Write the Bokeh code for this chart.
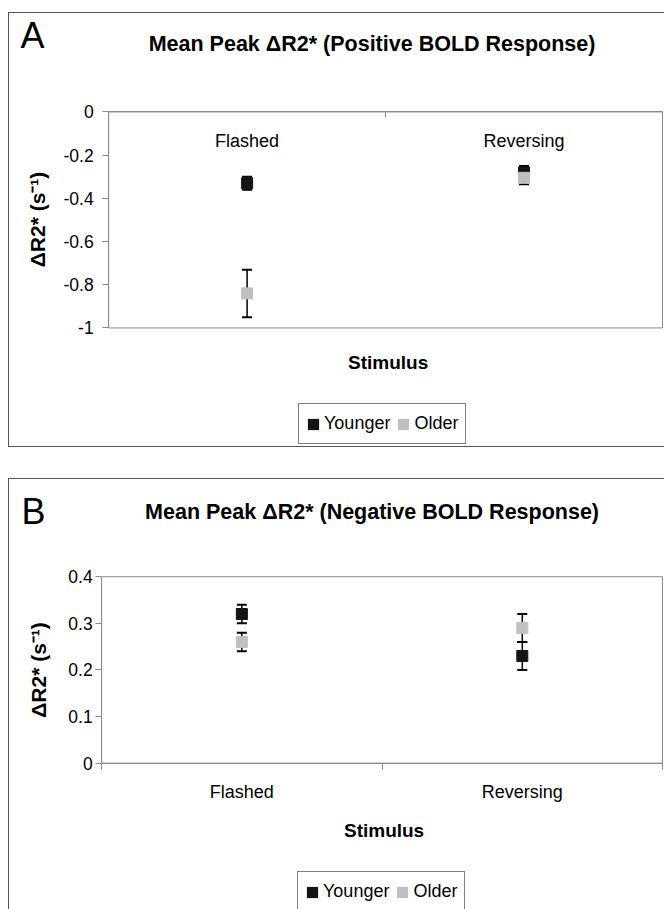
from bokeh.plotting import figure
from bokeh.layouts import column
from bokeh.models import (Range1d, FixedTicker, NumeralTickFormatter, ColumnDataSource,
                          Whisker, TeeHead, Legend, LegendItem, Label, LinearAxis)
from bokeh.embed import file_html
from bokeh.resources import INLINE

# ---------------- data ----------------
categories = ["Flashed", "Reversing"]
series_names = ["Younger", "Older"]

pos_younger = [-0.33, -0.28]
pos_younger_err = [0.03, 0.03]
pos_older = [-0.84, -0.305]
pos_older_err = [0.11, 0.03]

neg_younger = [0.32, 0.23]
neg_younger_err = [0.02, 0.03]
neg_older = [0.26, 0.29]
neg_older_err = [0.02, 0.03]

pos_ylim = [-1.0, 0.0]
neg_ylim = [0.0, 0.4]
pos_yticks = [-1.0, -0.8, -0.6, -0.4, -0.2, 0.0]
neg_yticks = [0.0, 0.1, 0.2, 0.3, 0.4]

titleA = "Mean Peak \u0394R2* (Positive BOLD Response)"
titleB = "Mean Peak \u0394R2* (Negative BOLD Response)"
ylabel = "\u0394R2* (s\u207b\u00b9)"
xlabel = "Stimulus"

# ---------------- style ----------------
SANS = "Liberation Sans"
C_YOUNG = "#151515"
C_OLD = "#c0c0c0"
GRID = "#8a8a8a"
BORDER = "1px solid #555555"
W = 656            # element width incl. 1px left border
CW = 655           # drawing width
NAN = float("nan")

xpos = [i + 1 for i in range(len(categories))]
xlim = [0.5, len(categories) + 0.5]


def side_range(v0, v1, p0, p1, total):
    """Range over the whole canvas such that v0..v1 spans pixels p0..p1."""
    k = (v1 - v0) / (p1 - p0)
    return Range1d(v0 - p0 * k, v1 + (total - p1) * k)


def make_panel(letter, title, ylim, yticks, young, young_err, old, old_err,
               height, ch, box, margin, css, letter_xy, title_xy, stim_xy, legend_xy,
               y_standoff, ylabel_standoff):
    # box: plot-area pixel extent (left, right, bottom, top) inside the drawing, y up
    bx0, bx1, by0, by1 = box
    p = figure(width=W, height=height, x_range=Range1d(0, CW), y_range=Range1d(0, ch),
               output_backend="svg", toolbar_location=None,
               x_axis_location=None, y_axis_location=None,
               min_border=0, min_border_left=0, min_border_right=0,
               min_border_top=0, min_border_bottom=0, margin=margin, styles=css)
    p.outline_line_color = None
    p.grid.visible = False
    p.background_fill_color = "white"
    p.border_fill_color = "white"

    p.extra_x_ranges = {"xd": side_range(xlim[0], xlim[1], bx0, bx1, CW)}
    p.extra_y_ranges = {"yd": side_range(ylim[0], ylim[1], by0, by1, ch)}

    # plot-area frame
    p.quad(left=[xlim[0]], right=[xlim[1]], bottom=[ylim[0]], top=[ylim[1]],
           x_range_name="xd", y_range_name="yd", fill_color=None,
           line_color=GRID, line_width=1)

    # category axis crossing at y = 0
    xa = LinearAxis(x_range_name="xd", y_range_name="yd", fixed_location=0,
                    bounds=(xlim[0], xlim[1]))
    xa.ticker = FixedTicker(ticks=xpos, minor_ticks=[0.5, 1.5, 2.5])
    xa.major_label_overrides = {xpos[i]: categories[i] for i in range(len(categories))}
    xa.major_tick_out = 0
    xa.major_tick_in = 0
    xa.minor_tick_out = 6
    xa.minor_tick_in = 0
    xa.minor_tick_line_color = GRID
    xa.axis_line_color = GRID
    xa.major_label_text_font = SANS
    xa.major_label_text_font_size = "18px"
    xa.major_label_text_color = "black"
    xa.major_label_standoff = 13
    p.add_layout(xa, "below")

    # value axis
    ya = LinearAxis(x_range_name="xd", y_range_name="yd", fixed_location=xlim[0],
                    bounds=(ylim[0], ylim[1]))
    ya.ticker = FixedTicker(ticks=yticks, minor_ticks=[])
    ya.formatter = NumeralTickFormatter(format="0.[0]")
    ya.major_tick_out = 6
    ya.major_tick_in = 0
    ya.major_tick_line_color = GRID
    ya.axis_line_color = GRID
    ya.major_label_text_font = SANS
    ya.major_label_text_font_size = "17.5px"
    ya.major_label_text_color = "black"
    ya.major_label_standoff = y_standoff
    ya.axis_label = ylabel
    ya.axis_label_text_font = SANS
    ya.axis_label_text_font_style = "bold"
    ya.axis_label_text_font_size = "21px"
    ya.axis_label_text_color = "black"
    ya.axis_label_standoff = ylabel_standoff
    p.add_layout(ya, "left")

    src_y = ColumnDataSource(dict(x=xpos, y=young,
                                  lo=[v - e for v, e in zip(young, young_err)],
                                  hi=[v + e for v, e in zip(young, young_err)]))
    src_o = ColumnDataSource(dict(x=xpos, y=old,
                                  lo=[v - e for v, e in zip(old, old_err)],
                                  hi=[v + e for v, e in zip(old, old_err)]))
    for src in (src_y, src_o):
        w = Whisker(base="x", lower="lo", upper="hi", source=src, dimension="height",
                    x_range_name="xd", y_range_name="yd",
                    line_color="black", line_width=1.5, level="underlay",
                    lower_head=TeeHead(size=10, line_color="black", line_width=2),
                    upper_head=TeeHead(size=10, line_color="black", line_width=2))
        p.add_layout(w)

    p.scatter("x", "y", source=src_y, marker="square", size=11,
              x_range_name="xd", y_range_name="yd",
              fill_color=C_YOUNG, line_color=C_YOUNG)
    p.scatter("x", "y", source=src_o, marker="square", size=11,
              x_range_name="xd", y_range_name="yd",
              fill_color=C_OLD, line_color=C_OLD)

    # legend swatches (square patches as in the original legend; not drawn in the plot)
    sw_y = p.quad(left=[NAN], right=[NAN], bottom=[NAN], top=[NAN], x_range_name="xd",
                  y_range_name="yd", fill_color=C_YOUNG, line_color=None)
    sw_o = p.quad(left=[NAN], right=[NAN], bottom=[NAN], top=[NAN], x_range_name="xd",
                  y_range_name="yd", fill_color=C_OLD, line_color=None)

    legend = Legend(items=[LegendItem(label=series_names[0], renderers=[sw_y]),
                           LegendItem(label=series_names[1], renderers=[sw_o])],
                    location=legend_xy, orientation="horizontal",
                    label_text_font=SANS, label_text_font_size="18px",
                    label_text_color="black", border_line_color="black",
                    border_line_width=1, background_fill_color="white",
                    background_fill_alpha=1, padding=7, spacing=6, margin=0,
                    label_standoff=4, glyph_width=14, glyph_height=14,
                    label_height=25)
    p.add_layout(legend)

    p.add_layout(Label(x=letter_xy[0], y=letter_xy[1], text=letter, text_font=SANS,
                       text_font_size="36px", text_color="black",
                       text_baseline="alphabetic", text_align="left"))
    p.add_layout(Label(x=title_xy[0], y=title_xy[1], text=title, text_font=SANS,
                       text_font_style="bold", text_font_size="21.5px",
                       text_color="black", text_baseline="alphabetic",
                       text_align="center"))
    p.add_layout(Label(x=stim_xy[0], y=stim_xy[1], text=xlabel, text_font=SANS,
                       text_font_style="bold", text_font_size="19px",
                       text_color="black", text_baseline="alphabetic",
                       text_align="center"))
    return p


# Panel A: element 656x435 at (8, 12); drawing area 655x433
pA = make_panel("A", titleA, pos_ylim, pos_yticks, pos_younger, pos_younger_err,
                pos_older, pos_older_err, height=435, ch=433,
                box=(99, 652, 120, 335), margin=(12, 0, 0, 8),
                css={"border-top": BORDER, "border-left": BORDER, "border-bottom": BORDER},
                letter_xy=(11, 411), title_xy=(362, 403), stim_xy=(378, 86),
                legend_xy=(289, 4), y_standoff=9, ylabel_standoff=11)

# Panel B: element 656x431 at (8, 478); drawing area 655x430
pB = make_panel("B", titleB, neg_ylim, neg_yticks, neg_younger, neg_younger_err,
                neg_older, neg_older_err, height=431, ch=430,
                box=(92, 652, 147, 333), margin=(31, 0, 0, 8),
                css={"border-top": BORDER, "border-left": BORDER},
                letter_xy=(12, 398), title_xy=(362, 398), stim_xy=(374, 80),
                legend_xy=(288, -2), y_standoff=3, ylabel_standoff=15)

layout = column(pA, pB, spacing=0)
open("out.html", "w").write(file_html(layout, INLINE))
